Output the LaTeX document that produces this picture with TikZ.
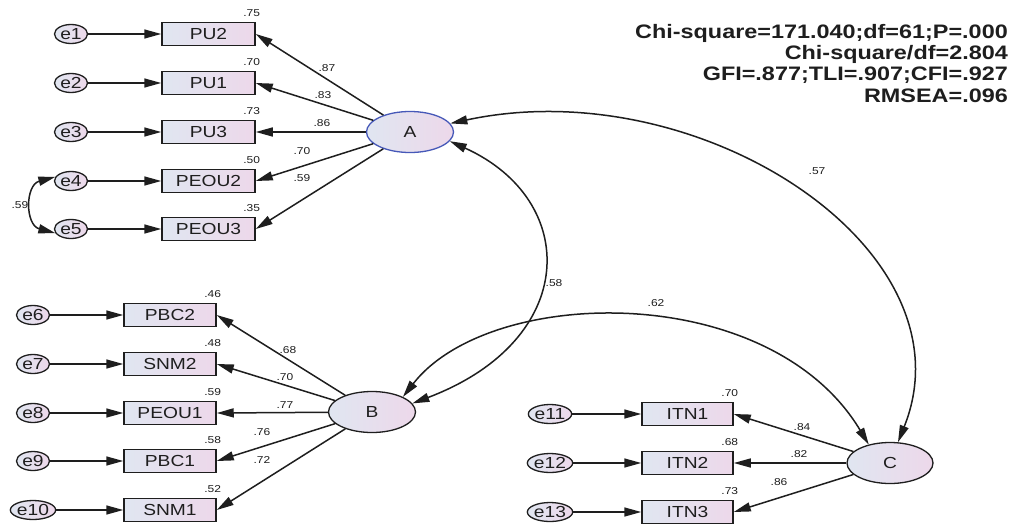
\documentclass[tikz,border=0pt]{standalone}
\usepackage{fontspec}
\setmainfont{Liberation Sans}[FakeStretch=1.2]
\newfontfamily\statfont{Liberation Sans}[FakeStretch=1.2]
\usetikzlibrary{arrows.meta,shapes.geometric}
\definecolor{boxL}{HTML}{E0E6F1}
\definecolor{boxR}{HTML}{EDD8EA}
\definecolor{ink}{HTML}{1E1E1E}
\definecolor{ablue}{HTML}{4658B8}
\begin{document}
\begin{tikzpicture}[x=1pt,y=-1pt,
  every node/.style={text=ink},
  grad/.style={left color=boxL,right color=boxR},
  obs/.style={draw=ink,line width=1.5pt,grad,minimum width=93pt,minimum height=23pt,inner sep=0pt,font=\fontsize{16}{18}\selectfont},
  err/.style={ellipse,draw=ink,line width=1.3pt,grad,minimum width=33pt,minimum height=19pt,inner sep=0pt,font=\fontsize{16}{18}\selectfont},
  lat/.style={ellipse,draw=ink,line width=1.3pt,grad,minimum width=87pt,minimum height=41pt,inner sep=0pt,font=\fontsize{16}{18}\selectfont},
  num/.style={font=\fontsize{10}{12}\selectfont,inner sep=0pt},
  tip/.style={-{Triangle[length=17pt,width=9pt]}},
  dtip/.style={{Triangle[length=17pt,width=9pt]}-{Triangle[length=17pt,width=9pt]}},
  conn/.style={draw=ink,line width=1.5pt},
]
\fill[white] (0,0) rectangle (1025,530);
\useasboundingbox (0,0) rectangle (1025,530);

% ---- group A ----
\node[lat,draw=ablue] (A) at (410,132) {A};
\foreach \n/\y/\t/\r in {PUb/34/PU2/.75, PUa/83/PU1/.70, PUc/132/PU3/.73, PEOUb/181/PEOU2/.50, PEOUc/229/PEOU3/.35}{
  \node[obs] (\n) at (208.5,\y) {\t};
  \node[num] at ([xshift=-4pt,yshift=9pt]\n.north east) {\r};
}
\node[err] (e1) at (71,34) {e1};
\node[err] (e2) at (71,83) {e2};
\node[err] (e3) at (71,132) {e3};
\node[err] (e4) at (71,181) {e4};
\node[err] (e5) at (71,229) {e5};
\foreach \a/\b in {e1/PUb, e2/PUa, e3/PUc, e4/PEOUb, e5/PEOUc}{
  \draw[conn,tip] (\a) -- (\b);
}
\foreach \b in {PUb, PUa, PUc, PEOUb, PEOUc}{
  \draw[conn,tip] (A) -- (\b.east);
}
\node[num] at (327,68) {.87};
\node[num] at (323,95) {.83};
\node[num] at (322,123) {.86};
\node[num] at (302,151) {.70};
\node[num] at (302,178) {.59};
\draw[conn,dtip] (e4.165) .. controls (25,185) and (25,225) .. (e5.195);
\node[num] at (20,205) {.59};

% ---- group B ----
\node[lat] (B) at (372,412) {B};
\foreach \n/\y/\t/\r in {PBCb/315/PBC2/.46, SNMb/364/SNM2/.48, PEOUa/413/PEOU1/.59, PBCa/461/PBC1/.58, SNMa/510/SNM1/.52}{
  \node[obs,minimum width=92pt] (\n) at (170,\y) {\t};
  \node[num] at ([xshift=-4pt,yshift=9pt]\n.north east) {\r};
}
\node[err] (e6) at (33,315) {e6};
\node[err] (e7) at (33,364) {e7};
\node[err] (e8) at (33,413) {e8};
\node[err] (e9) at (33,461) {e9};
\node[err] (e10) at (33,510) {e10};
\foreach \a/\b in {e6/PBCb, e7/SNMb, e8/PEOUa, e9/PBCa, e10/SNMa}{
  \draw[conn,tip] (\a) -- (\b);
}
\foreach \b in {PBCb, SNMb, PEOUa, PBCa, SNMa}{
  \draw[conn,tip] (B) -- (\b.east);
}
\node[num] at (288,350) {.68};
\node[num] at (285,377) {.70};
\node[num] at (285,405) {.77};
\node[num] at (262,432) {.76};
\node[num] at (262,460) {.72};

% ---- group C ----
\node[lat,minimum width=86pt] (C) at (890,463) {C};
\foreach \n/\y/\t/\r in {ITNa/414/ITN1/.70, ITNb/463/ITN2/.68, ITNc/512/ITN3/.73}{
  \node[obs,minimum width=91pt] (\n) at (687.5,\y) {\t};
  \node[num] at ([xshift=-4pt,yshift=9pt]\n.north east) {\r};
}
\node[err] (e11) at (550,414) {e11};
\node[err] (e12) at (550,463) {e12};
\node[err] (e13) at (550,512) {e13};
\foreach \a/\b in {e11/ITNa, e12/ITNb, e13/ITNc}{
  \draw[conn,tip] (\a) -- (\b);
}
\foreach \b in {ITNa, ITNb, ITNc}{
  \draw[conn,tip] (C) -- (\b.east);
}
\node[num] at (802,427) {.84};
\node[num] at (799,454) {.82};
\node[num] at (779,482) {.86};

% ---- covariances ----
\draw[conn,dtip] (A.12) .. controls (700,70) and (975,250) .. (C.69);
\node[num] at (817,171) {.57};
\draw[conn,dtip] (A.347) .. controls (580,200) and (580,340) .. (B.12);
\node[num] at (554,283) {.58};
\draw[conn,dtip] (B.26) .. controls (490,285) and (770,280) .. (C.139);
\node[num] at (656,303) {.62};

% ---- fit indices ----
\node[anchor=north east,align=right,inner sep=0pt,font=\statfont\bfseries\fontsize{19.5}{21.3}\selectfont] (fit) at (1008,24)
  {Chi-square=171.040;df=61;P=.000\\Chi-square/df=2.804\\GFI=.877;TLI=.907;CFI=.927\\RMSEA=.096};
\end{tikzpicture}
\end{document}
